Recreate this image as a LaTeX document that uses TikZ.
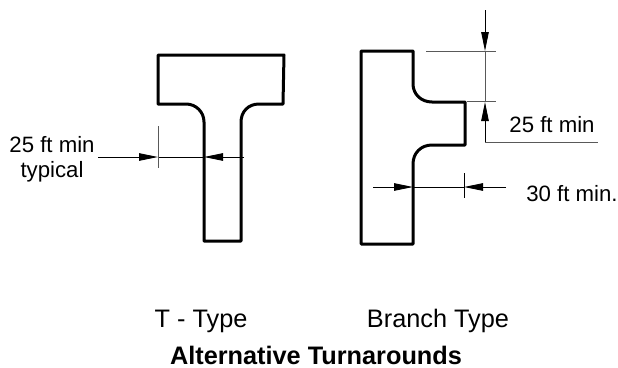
\documentclass[tikz,border=0pt]{standalone}
\usepackage{fontspec}
\setmainfont{Liberation Sans}
\usetikzlibrary{arrows.meta}
\begin{document}
\begin{tikzpicture}[x=1pt, y=-1pt]
\tikzstyle{every node}=[inner sep=0pt, anchor=base, font=\fontsize{22.2}{24}\selectfont]
\tikzstyle{big}=[font=\fontsize{25.3}{28}\selectfont]
\tikzstyle{road}=[line width=3pt, line join=round]
\tikzstyle{dim}=[line width=0.9pt, -{Triangle[length=19pt, width=7.5pt]}]
\tikzstyle{tick}=[line width=0.8pt, black!65]
\useasboundingbox (0, 0) rectangle (618, 367);

% T type
\draw[road] (158, 55) -- (284, 55) -- (283, 104) -- (259, 104)
  .. controls (248, 104) and (241, 112) .. (241, 122) -- (241, 241) -- (204, 241)
  -- (204, 122) .. controls (204, 112) and (196, 104) .. (186, 104) -- (158, 104) -- cycle;

% branch type
\draw[road] (361, 51) -- (413, 51) -- (413, 84)
  .. controls (413, 94) and (421, 102) .. (432, 102) -- (465, 102) -- (465, 145)
  -- (432, 145) .. controls (421, 145) and (413, 153) .. (413, 164) -- (413, 244)
  -- (361, 244) -- cycle;

% dimension points
\coordinate(ta) at ( 98, 157);
\coordinate(tb) at (158, 157);
\coordinate(tc) at (244, 157);
\coordinate(td) at (204, 157);
\coordinate(te) at (158, 126);
\coordinate(tf) at (158, 168);
\coordinate(ba) at (485,  10);
\coordinate(bb) at (485,  51);
\coordinate(bc) at (485, 142);
\coordinate(bd) at (485, 102);
\coordinate(be) at (598, 142);
\coordinate(bf) at (426,  51);
\coordinate(bg) at (496,  51);
\coordinate(bh) at (467, 101);
\coordinate(bi) at (496, 101);
\coordinate(ca) at (373, 187);
\coordinate(cb) at (413, 187);
\coordinate(cc) at (506, 187);
\coordinate(cd) at (464, 187);
\coordinate(ce) at (464, 173);
\coordinate(cf) at (464, 198);

\draw[dim] (ta) -- (tb);
\draw[dim] (tc) -- (td);
\draw (tb) -- (td);
\draw[tick] (te) -- (tf);

\draw[dim] (ba) -- (bb);
\draw[dim] (bc) -- (bd);
\draw[tick] (bb) -- (bd);
\draw[tick] (bc) -- (be);
\draw[tick] (bf) -- (bg);
\draw[tick] (bh) -- (bi);

\draw[dim] (ca) -- (cb);
\draw[dim] (cc) -- (cd);
\draw (cb) -- (cd);
\draw (ce) -- (cf);

\node(lmin) at ( 52, 152) {25 ft min};
\node(ltyp) at ( 52, 177) {typical};
\node(rmin) at (552, 132) {25 ft min};
\node(rthr) at (572, 201) {30 ft min.};
\node(ttyp)[big] at (201, 327) {T - Type};
\node(btyp)[big] at (438, 327) {Branch Type};
\node(capt)[big] at (316, 364) {\bfseries Alternative Turnarounds};
\end{tikzpicture}
\end{document}
